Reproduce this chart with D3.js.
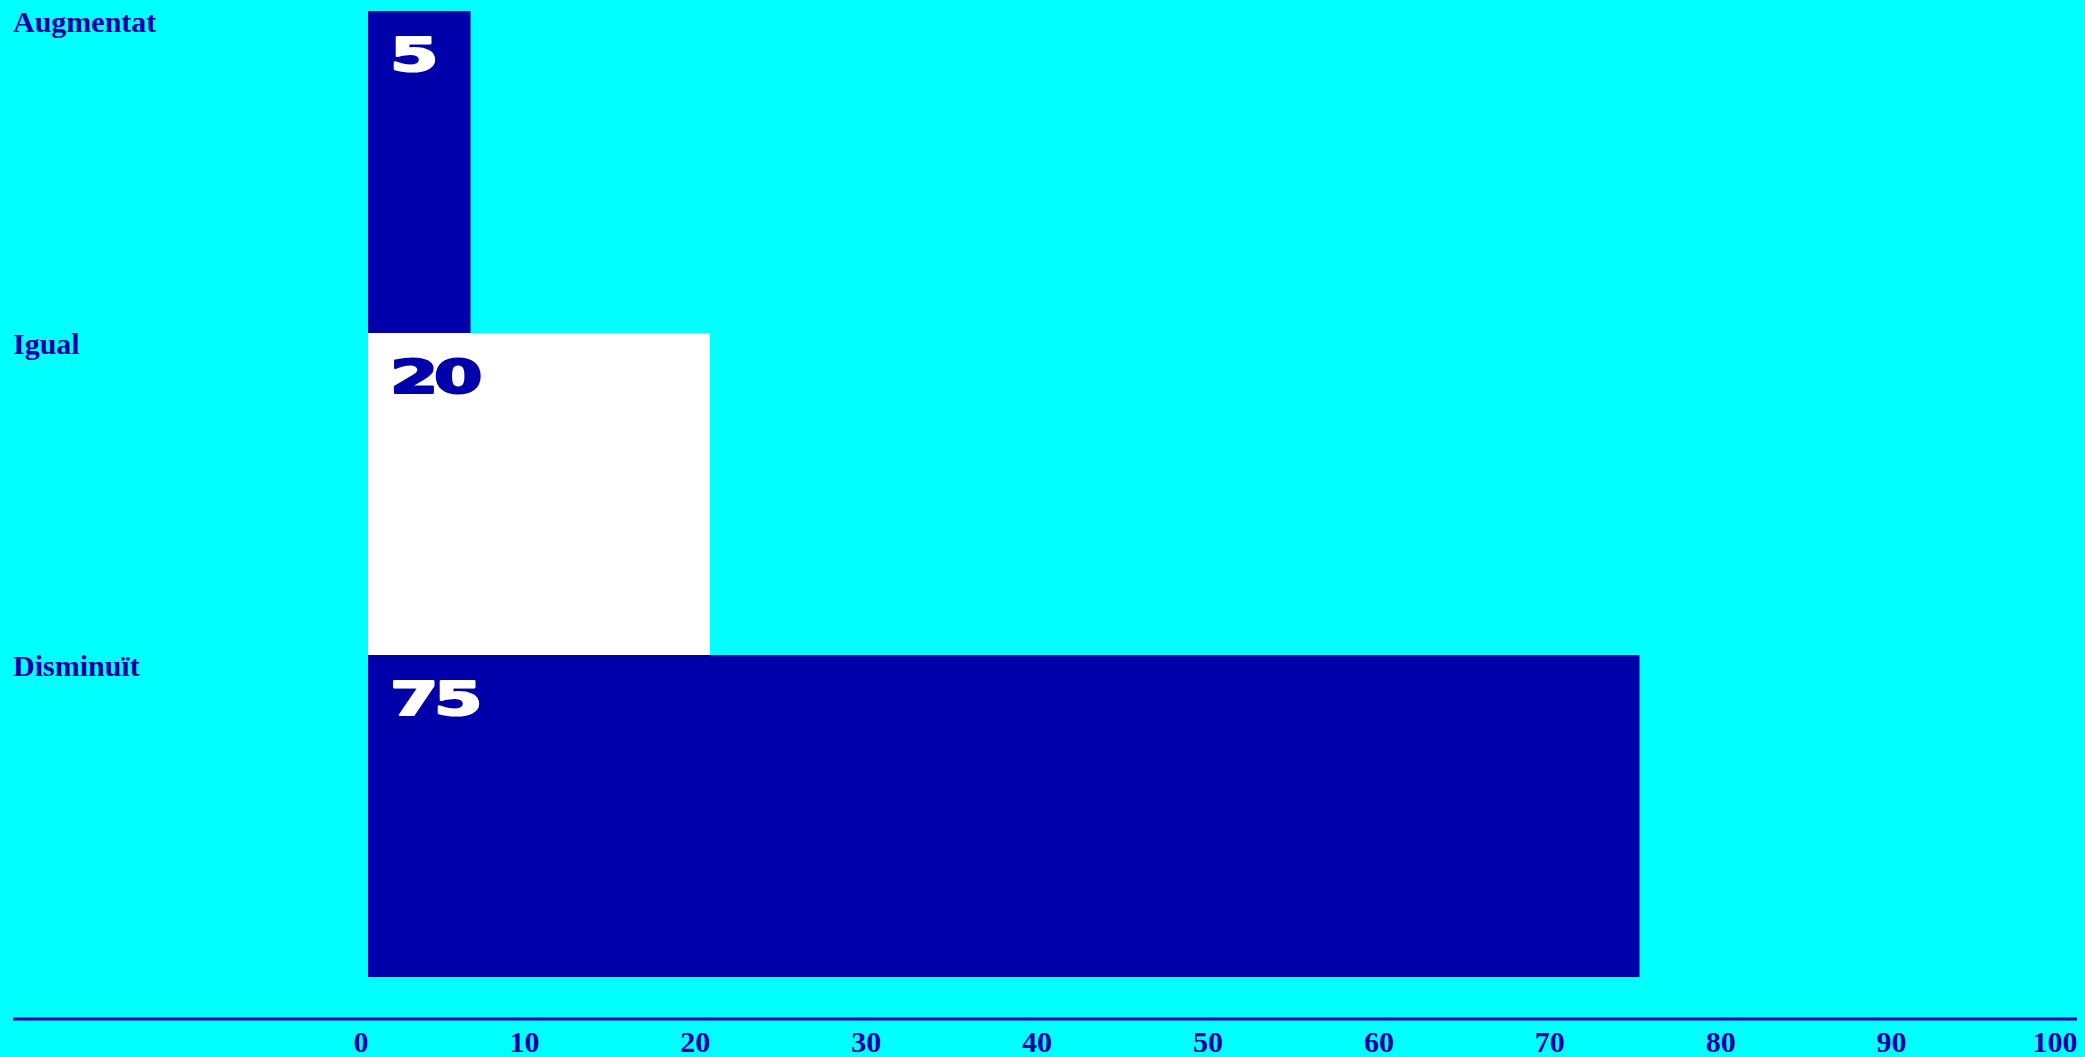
<!DOCTYPE html>
<html>
<head>
<meta charset="utf-8">
<script src="https://cdn.jsdelivr.net/npm/d3@7"></script>
<style>
  html, body { margin: 0; padding: 0; background: #00FFFF; overflow: hidden; }
  svg { display: block; }
</style>
</head>
<body>
<script>
const categories = ["Augmentat", "Igual", "Disminuït"];
const values = [6, 20, 74.4];
const valueLabels = ["5", "20", "75"];
const xTicks = [0, 10, 20, 30, 40, 50, 60, 70, 80, 90, 100];

const W = 2085, H = 1057;
const BLUE = "#0000AA", WHITE = "#FFFFFF", BG = "#00FFFF";

const svg = d3.select("body").append("svg").attr("width", W).attr("height", H);
svg.append("rect").attr("width", W).attr("height", H).attr("fill", BG);

const x = d3.scaleLinear().domain([0, 100]).range([368, 2077]);
const y = d3.scaleBand().domain(categories).range([11, 977]).padding(0);

const rows = categories.map((c, i) => ({ cat: c, value: values[i], label: valueLabels[i], i }));

// bars
svg.append("g").selectAll("rect").data(rows).join("rect")
  .attr("x", x(0))
  .attr("y", d => y(d.cat))
  .attr("width", d => x(d.value) - x(0))
  .attr("height", y.bandwidth())
  .attr("fill", d => d.i === 1 ? WHITE : BLUE);

// value labels (wide display digits)
svg.append("g").selectAll("text").data(rows).join("text")
  .attr("transform", d => `translate(${x(0) + 22},${y(d.cat) + 60}) scale(1.45,0.96)`)
  .attr("font-family", "DejaVu Sans")
  .attr("font-weight", "bold")
  .attr("font-size", 48)
  .attr("letter-spacing", -3)
  .attr("fill", d => d.i === 1 ? BLUE : WHITE)
  .attr("stroke", d => d.i === 1 ? BLUE : WHITE)
  .attr("stroke-width", 2.2)
  .attr("stroke-linejoin", "round")
  .text(d => d.label);

// category labels
svg.append("g").selectAll("text").data(rows).join("text")
  .attr("x", 13)
  .attr("y", d => y(d.cat) + 21)
  .attr("font-family", "Liberation Serif")
  .attr("font-weight", "bold")
  .attr("font-size", 30)
  .attr("fill", BLUE)
  .text(d => d.cat);

// axis baseline
const axisY = 1019;
svg.append("line")
  .attr("x1", 13).attr("x2", x(100))
  .attr("y1", axisY).attr("y2", axisY)
  .attr("stroke", BLUE).attr("stroke-width", 3);

// axis ticks
const axisG = svg.append("g").attr("transform", `translate(0,${axisY})`)
  .call(d3.axisBottom(x).tickValues(xTicks).tickSize(0).tickFormat(d3.format("d")));
axisG.select(".domain").remove();
axisG.selectAll("text")
  .attr("text-anchor", "end")
  .attr("dy", null)
  .attr("y", 33)
  .attr("font-family", "Liberation Serif")
  .attr("font-weight", "bold")
  .attr("font-size", 30)
  .attr("fill", BLUE);
</script>
</body>
</html>
